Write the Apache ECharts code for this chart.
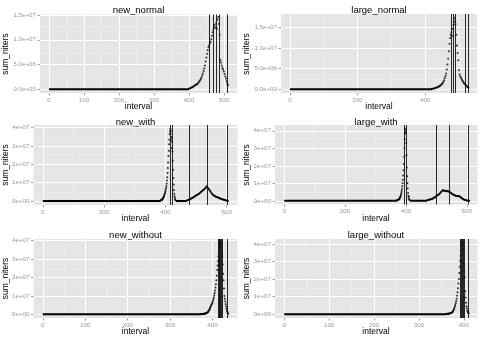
<!DOCTYPE html>
<html>
<head>
<meta charset="utf-8">
<script src="https://cdn.jsdelivr.net/npm/echarts@6/dist/echarts.min.js"></script>
<style>
html, body { margin: 0; padding: 0; background: #fff; }
#chart { width: 483px; height: 338px; }
</style>
</head>
<body>
<div id="chart"></div>
<script>
// sum_niters values are in millions, one value every `step` intervals from `start`

// new_normal
var newNormalStart = 400, newNormalStep = 2;
var newNormalValues = [0.1, 0.15, 0.2, 0.3, 0.35, 0.4, 0.5, 0.6, 0.7, 0.8, 0.9, 1.0, 1.0, 1.2, 1.4, 1.6, 1.8, 2.1,
  2.4, 2.8, 3.2, 3.7, 4.2, 4.8, 5.6, 6.4, 7.2, 7.9, 8.5, 8.9, 9.3, 9.6, 10.1, 10.8, 11.5, 12.1, 12.6, 13.0, 12.4,
  13.4, 12.2, 14.1, 14.6, 13.2, 11.0, 5.9, 5.4, 4.8, 4.3, 4.0, 3.6, 3.1, 2.6, 2.2, 1.6, 1.1, 0.8];
var newNormalFlat = [[0, 400]];
var newNormalVlines = [458, 470, 478, 486, 511];
var newNormalXTicks = [0, 100, 200, 300, 400, 500];
var newNormalXMinor = [50, 150, 250, 350, 450];
var newNormalYTicks = [0, 5e6, 1e7, 1.5e7];
var newNormalYLabels = ['0.0e+00', '5.0e+06', '1.0e+07', '1.5e+07'];
var newNormalYMinor = [2.5e6, 7.5e6, 1.25e7];

// large_normal
var largeNormalStart = 420, largeNormalStep = 2;
var largeNormalValues = [0.1, 0.12, 0.15, 0.2, 0.25, 0.3, 0.35, 0.4, 0.5, 0.55, 0.65, 0.75, 0.85, 1.0, 1.15, 1.3,
  1.5, 1.8, 2.2, 2.7, 3.2, 3.8, 4.8, 6.0, 7.4, 9.2, 11.0, 12.4, 13.2, 13.8, 12.9, 14.6, 15.6, 16.4, 17.2, 15.8,
  13.2, 10.6, 8.8, 7.0, 4.6, 3.6, 3.1, 2.8, 2.4, 2.1, 1.9, 1.6, 1.4, 1.2, 1.0, 0.9, 0.7, 0.5, 0.4];
var largeNormalFlat = [[0, 420]];
var largeNormalVlines = [477, 483, 490, 519, 528];
var largeNormalXTicks = [0, 200, 400];
var largeNormalXMinor = [100, 300, 500];
var largeNormalYTicks = [0, 5e6, 1e7, 1.5e7];
var largeNormalYLabels = ['0.0e+00', '5.0e+06', '1.0e+07', '1.5e+07'];
var largeNormalYMinor = [2.5e6, 7.5e6, 1.25e7, 1.75e7];

// new_with
var newWithPeakStart = 384, newWithPeakStep = 1;
var newWithPeakValues = [0.2, 0.3, 0.4, 0.5, 0.6, 0.8, 1.0, 1.2, 1.4, 1.7, 2.0, 2.4, 2.9, 3.4, 4.0, 4.6, 5.3, 6.2,
  7.2, 8.3, 9.6, 11.2, 13.0, 15.3, 18.0, 21.0, 24.5, 27.5, 31.0, 33.5, 36.5, 38.0, 39.5, 37.0, 38.5, 35.0, 32.5,
  29.0, 34.0, 27.0, 22.0, 17.0, 12.5, 9.0, 6.0, 4.0, 2.6, 1.6, 0.8, 0.4];
var newWithHumpStart = 470, newWithHumpStep = 2;
var newWithHumpValues = [0.3, 0.4, 0.5, 0.6, 0.8, 0.9, 1.1, 1.3, 1.5, 1.7, 1.9, 2.1, 2.3, 2.5, 2.8, 3.0, 3.2, 3.4,
  3.6, 3.8, 4.0, 4.3, 4.6, 4.9, 5.2, 5.5, 5.8, 6.0, 6.3, 6.7, 7.0, 7.4, 8.0, 7.6, 7.2, 6.8, 6.4, 6.0, 5.4, 4.9, 4.4,
  4.0, 3.6, 3.3, 3.0, 2.8, 2.6, 2.4, 2.2, 2.1, 2.0, 1.9, 1.7, 1.6, 1.4, 1.3, 1.1, 1.0, 0.9, 0.8, 0.7, 0.6, 0.5, 0.4,
  0.3, 0.2, 0.1, 0.05];
var newWithFlat = [[0, 384], [434, 470]];
var newWithVlines = [415, 422, 477, 535, 603];

// large_with
var largeWithPeakStart = 370, largeWithPeakStep = 1;
var largeWithPeakValues = [0.2, 0.3, 0.3, 0.4, 0.5, 0.6, 0.7, 0.9, 1.1, 1.3, 1.6, 2.0, 2.5, 3.1, 3.8, 4.6, 5.6, 6.8,
  8.3, 10.0, 12.0, 14.5, 17.5, 21.0, 25.0, 30.0, 35.0, 39.0, 41.2, 38.5, 40.0, 33.0, 26.0, 19.0, 14.0, 10.0, 7.0,
  4.5, 2.8, 1.5, 2.5, 0.8, 0.4];
var largeWithHumpStart = 470, largeWithHumpStep = 2;
var largeWithHumpValues = [0.3, 0.4, 0.5, 0.6, 0.7, 0.8, 0.9, 1.0, 1.1, 1.3, 1.5, 1.7, 1.9, 2.1, 2.4, 2.7, 3.0, 3.2,
  3.4, 3.6, 3.9, 4.3, 4.7, 5.1, 5.5, 5.9, 6.1, 6.0, 5.6, 5.8, 5.5, 5.7, 5.4, 5.6, 5.3, 5.4, 5.1, 5.0, 4.8, 4.5, 4.2,
  4.0, 3.7, 3.5, 3.3, 3.2, 3.0, 2.9, 2.8, 2.7, 2.8, 2.6, 2.7, 2.5, 2.3, 2.0, 1.7, 1.4, 1.2, 1.0, 0.8, 0.6, 0.5, 0.4,
  0.3, 0.2, 0.15, 0.1, 0.05, 0.02];
var largeWithFlat = [[0, 370], [413, 470]];
var largeWithVlines = [395, 400, 499, 541, 606];

var withXTicks = [0, 200, 400, 600];
var withXMinor = [100, 300, 500];
var bigYTicks = [0, 1e7, 2e7, 3e7, 4e7];
var bigYLabels = ['0e+00', '1e+07', '2e+07', '3e+07', '4e+07'];
var bigYMinor = [5e6, 1.5e7, 2.5e7, 3.5e7];

// new_without
var newWithoutStart = 372, newWithoutStep = 1;
var newWithoutValues = [0.1, 0.12, 0.14, 0.16, 0.18, 0.2, 0.23, 0.26, 0.3, 0.35, 0.4, 0.45, 0.5, 0.6, 0.7, 0.8, 1.0,
  1.2, 1.5, 1.9, 2.3, 2.8, 3.3, 3.9, 4.4, 4.9, 5.4, 5.9, 6.6, 7.4, 8.3, 9.3, 10.3, 11.6, 13.0, 14.6, 16.3, 18.5,
  21.0, 24.0, 26.5, 29.0, 31.5, 34.0, 36.5, 38.5, 39.0, 37.5, 38.0, 35.5, 33.0, 31.5, 27.0, 22.0, 18.5, 14.0, 10.0,
  8.5, 7.0, 5.5, 4.2, 3.0, 2.0, 1.2, 0.6, 0.3];
var newWithoutFlat = [[0, 372]];
var newWithoutVlines = [413, 415, 417, 419, 421, 423, 435];

// large_without
var largeWithoutStart = 360, largeWithoutStep = 1;
var largeWithoutValues = [0.1, 0.12, 0.14, 0.16, 0.19, 0.22, 0.26, 0.3, 0.35, 0.4, 0.5, 0.6, 0.7, 0.85, 1.0, 1.3,
  1.7, 2.2, 2.8, 3.5, 4.3, 5.2, 6.2, 7.4, 8.8, 10.5, 12.5, 14.7, 17.5, 20.0, 23.5, 27.0, 30.5, 33.5, 36.5, 39.0,
  40.8, 39.5, 37.0, 34.0, 29.0, 24.5, 21.0, 13.0, 9.5, 6.5, 4.5, 3.2, 2.0, 1.2, 0.6, 0.3];
var largeWithoutFlat = [[0, 360]];
var largeWithoutVlines = [392, 394, 396, 398, 400, 410];

var withoutXTicks = [0, 100, 200, 300, 400];
var withoutXMinor = [50, 150, 250, 350];

function toPoints(start, step, values) {
  return values.map(function (v, i) { return [start + i * step, v * 1e6]; });
}

var FONT = '"Liberation Sans", Arial, sans-serif';

var panels = [
  { name: 'new_normal', box: [40, 14.5, 197, 78.5], xLim: [-25.6, 537.6], yLim: [-0.75e6, 15.1e6],
    xTicks: newNormalXTicks, xMinor: newNormalXMinor, yTicks: newNormalYTicks, yLabels: newNormalYLabels,
    yMinor: newNormalYMinor, flat: newNormalFlat, vlines: newNormalVlines,
    pts: [toPoints(newNormalStart, newNormalStep, newNormalValues)],
    title: [138.5, 10], xName: [138.5, 107], yName: [6, 54] },
  { name: 'large_normal', box: [281, 14, 196, 79], xLim: [-26.4, 553.4], yLim: [-0.9e6, 18.2e6],
    xTicks: largeNormalXTicks, xMinor: largeNormalXMinor, yTicks: largeNormalYTicks, yLabels: largeNormalYLabels,
    yMinor: largeNormalYMinor, flat: largeNormalFlat, vlines: largeNormalVlines,
    pts: [toPoints(largeNormalStart, largeNormalStep, largeNormalValues)],
    title: [379, 10], xName: [379, 107], yName: [246.5, 54] },
  { name: 'new_with', box: [33.5, 125, 204, 80], xLim: [-30.25, 635.25], yLim: [-2.2e6, 41.5e6],
    xTicks: withXTicks, xMinor: withXMinor, yTicks: bigYTicks, yLabels: bigYLabels,
    yMinor: bigYMinor, flat: newWithFlat, vlines: newWithVlines,
    pts: [toPoints(newWithPeakStart, newWithPeakStep, newWithPeakValues),
          toPoints(newWithHumpStart, newWithHumpStep, newWithHumpValues)],
    title: [135.5, 122], xName: [135.5, 218.3], yName: [5.5, 165] },
  { name: 'large_with', box: [275, 125, 202.5, 79.5], xLim: [-30.25, 635.25], yLim: [-2.1e6, 43.3e6],
    xTicks: withXTicks, xMinor: withXMinor, yTicks: bigYTicks, yLabels: bigYLabels,
    yMinor: bigYMinor, flat: largeWithFlat, vlines: largeWithVlines,
    pts: [toPoints(largeWithPeakStart, largeWithPeakStep, largeWithPeakValues),
          toPoints(largeWithHumpStart, largeWithHumpStep, largeWithHumpValues)],
    title: [376, 122.5], xName: [376, 218.3], yName: [246.5, 165] },
  { name: 'new_without', box: [33.5, 239, 204, 79], xLim: [-21.85, 458.85], yLim: [-2.0e6, 40.9e6],
    xTicks: withoutXTicks, xMinor: withoutXMinor, yTicks: bigYTicks, yLabels: bigYLabels,
    yMinor: bigYMinor, flat: newWithoutFlat, vlines: newWithoutVlines,
    pts: [toPoints(newWithoutStart, newWithoutStep, newWithoutValues)],
    title: [135.5, 235], xName: [135.5, 332], yName: [5.5, 278.5] },
  { name: 'large_without', box: [275, 239, 202.5, 79], xLim: [-20.5, 430.5], yLim: [-2.2e6, 42.86e6],
    xTicks: withoutXTicks, xMinor: withoutXMinor, yTicks: bigYTicks, yLabels: bigYLabels,
    yMinor: bigYMinor, flat: largeWithoutFlat, vlines: largeWithoutVlines,
    pts: [toPoints(largeWithoutStart, largeWithoutStep, largeWithoutValues)],
    title: [376, 235], xName: [376, 332], yName: [246.5, 278.5] }
];

var grids = [], xAxes = [], yAxes = [], series = [], graphics = [];

function minorAxis(i, lim, minor, pos) {
  return {
    type: 'value', gridIndex: i, position: pos, min: lim[0], max: lim[1],
    axisLine: { show: false, onZero: false },
    axisTick: { show: false, customValues: minor },
    axisLabel: { show: false },
    splitLine: { show: true, lineStyle: { color: '#F2F2F2', width: 0.6 } }
  };
}

function majorAxis(i, lim, ticks, labels, pos) {
  return {
    type: 'value', gridIndex: i, position: pos, min: lim[0], max: lim[1],
    axisLine: { show: false, onZero: false },
    axisTick: { show: true, customValues: ticks, length: 2.5, lineStyle: { color: '#8a8a8a', width: 0.8 } },
    axisLabel: {
      show: true, customValues: ticks, margin: 4, fontSize: 6.2, color: '#999999', fontFamily: FONT,
      formatter: function (v) {
        var k = ticks.indexOf(v);
        return k >= 0 ? labels[k] : '';
      }
    },
    splitLine: { show: true, lineStyle: { color: '#FFFFFF', width: 1 } }
  };
}

panels.forEach(function (p, i) {
  grids.push({
    left: p.box[0], top: p.box[1], width: p.box[2], height: p.box[3],
    show: true, backgroundColor: '#E5E5E5', borderWidth: 0
  });
  xAxes.push(minorAxis(i, p.xLim, p.xMinor, 'top'));
  xAxes.push(majorAxis(i, p.xLim, p.xTicks, p.xTicks.map(String), 'bottom'));
  yAxes.push(minorAxis(i, p.yLim, p.yMinor, 'right'));
  yAxes.push(majorAxis(i, p.yLim, p.yTicks, p.yLabels, 'left'));

  p.flat.forEach(function (seg) {
    series.push({
      type: 'line', xAxisIndex: 2 * i + 1, yAxisIndex: 2 * i + 1,
      data: [[seg[0], 0], [seg[1], 0]], showSymbol: false, symbol: 'none', silent: true,
      lineStyle: { color: '#000', width: 2 }, z: 3
    });
  });
  p.pts.forEach(function (d, k) {
    var s = {
      type: 'scatter', xAxisIndex: 2 * i + 1, yAxisIndex: 2 * i + 1,
      data: d, symbol: 'circle', symbolSize: 2, silent: true,
      itemStyle: { color: '#000' }, z: 3
    };
    if (k === 0) {
      s.markLine = {
        silent: true, symbol: ['none', 'none'], label: { show: false },
        lineStyle: { color: '#111', width: 0.9, type: 'solid' },
        data: p.vlines.map(function (v) { return { xAxis: v }; })
      };
    }
    series.push(s);
  });

  graphics.push({
    type: 'text', x: p.title[0], y: p.title[1],
    style: { text: p.name, fontSize: 9.5, fontFamily: FONT, fill: '#000', align: 'center', verticalAlign: 'middle' }
  });
  graphics.push({
    type: 'text', x: p.xName[0], y: p.xName[1],
    style: { text: 'interval', fontSize: 8.5, fontFamily: FONT, fill: '#000', align: 'center', verticalAlign: 'middle' }
  });
  graphics.push({
    type: 'text', x: p.yName[0], y: p.yName[1], rotation: Math.PI / 2,
    style: { text: 'sum_niters', fontSize: 8.5, fontFamily: FONT, fill: '#000', align: 'center', verticalAlign: 'middle' }
  });
});

var chart = echarts.init(document.getElementById('chart'));
chart.setOption({
  animation: false,
  backgroundColor: '#fff',
  grid: grids,
  xAxis: xAxes,
  yAxis: yAxes,
  series: series,
  graphic: graphics
});
</script>
</body>
</html>
